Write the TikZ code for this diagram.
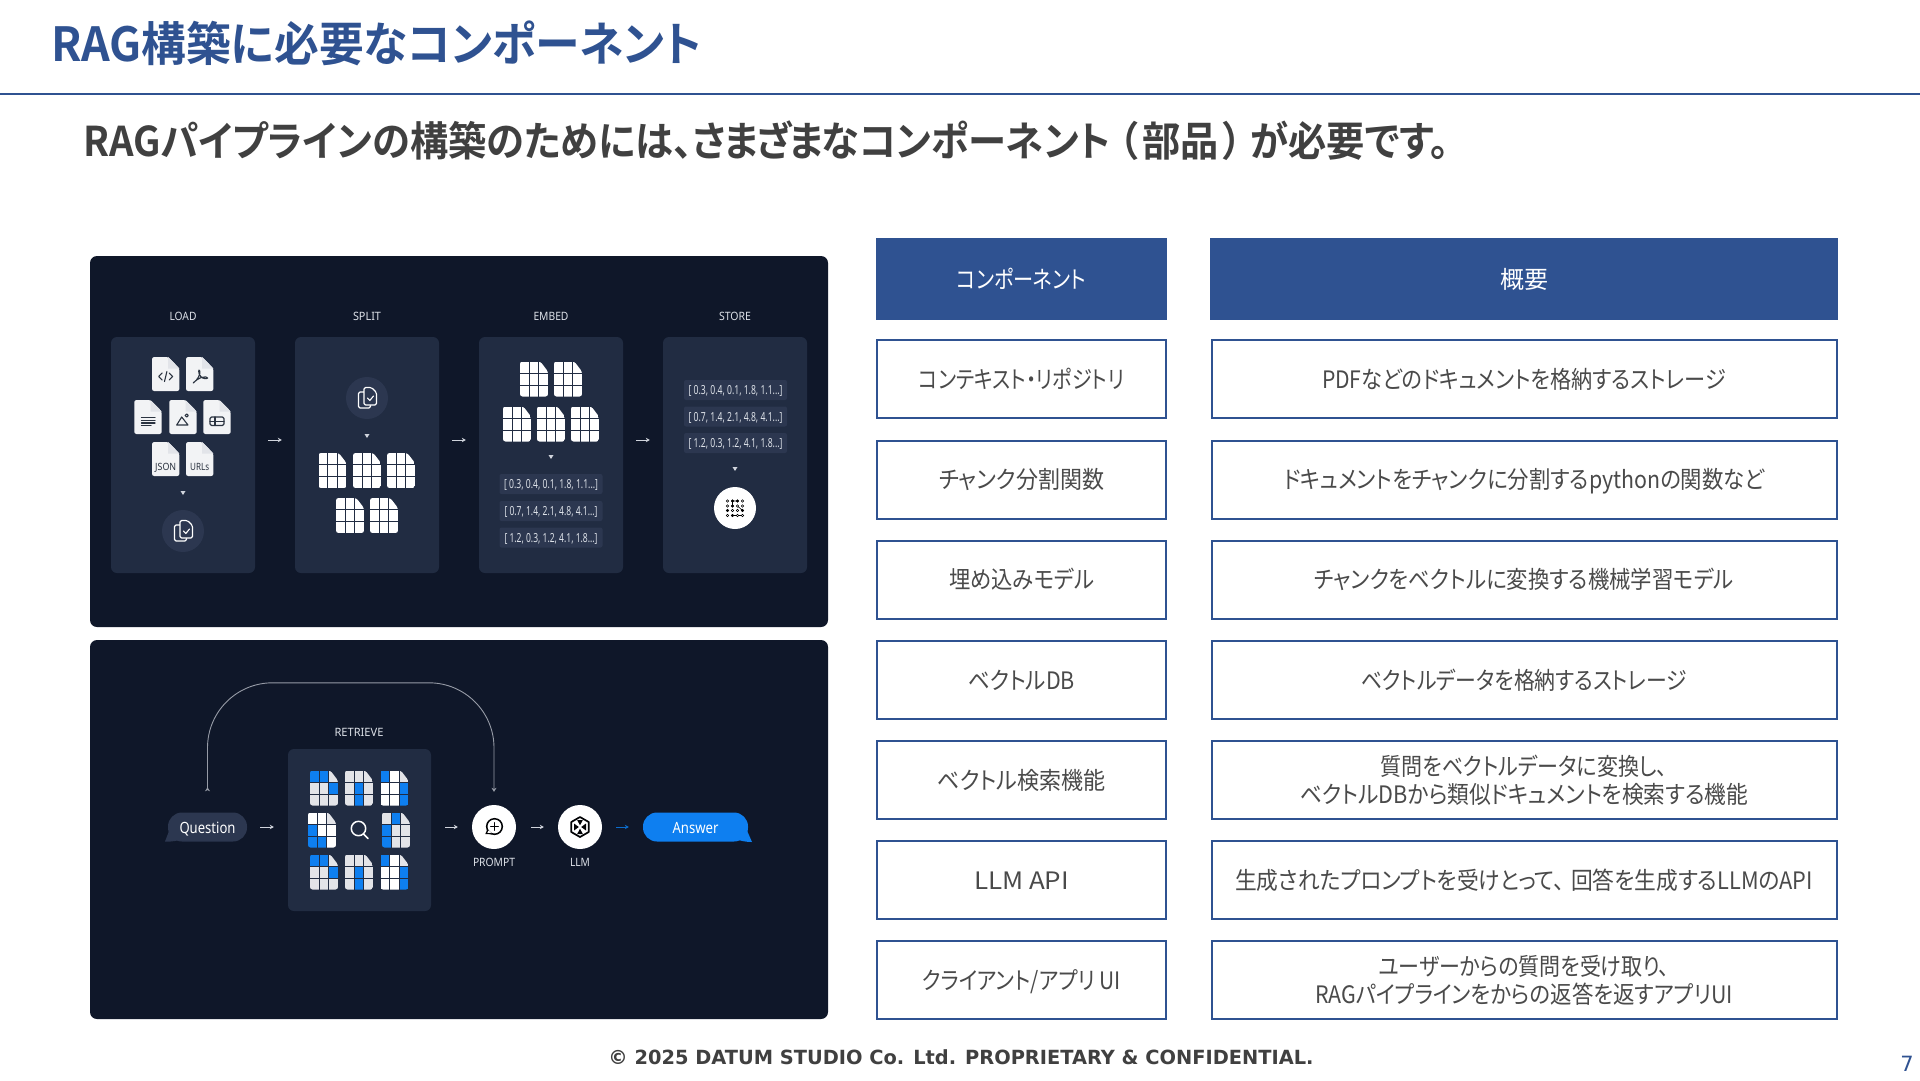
\documentclass[tikz,border=0pt]{standalone}
\usepackage{fontspec}
\usepackage{graphicx}
\usetikzlibrary{arrows.meta}
\setmainfont{Noto Sans CJK JP}[RawFeature={+palt},BoldFont={Noto Sans CJK JP Bold}]
\newfontfamily\uifont{Noto Sans}
\newfontfamily\footfont{DejaVu Sans}
\definecolor{rulec}{HTML}{2F5291}
\definecolor{txt}{HTML}{4A4A4A}
\definecolor{subt}{HTML}{404040}
\definecolor{panel}{HTML}{0F1729}
\definecolor{card}{HTML}{212C42}
\definecolor{chip}{HTML}{2C3750}
\definecolor{lbl}{HTML}{DDE1E8}
\definecolor{flow}{HTML}{D0D4DC}
\definecolor{cB}{HTML}{0E7FF0}
\definecolor{cG}{HTML}{E3E4E8}
\definecolor{cW}{HTML}{FFFFFF}
\definecolor{ink}{HTML}{2B3340}
\definecolor{page}{HTML}{F2F3F5}
\definecolor{fold}{HTML}{E2E4E9}
\newcommand\fitw[2]{\resizebox{#1pt}{\height}{\smash{#2}\rule[-0.03em]{0pt}{0.85em}}}
\newcommand\griddoc[3]{%
  \begin{scope}[shift={(#1,#2)}]
    \clip[rounded corners=2.5] (-14,-17.5)--(6.3,-17.5)--(14,-7.5)--(14,17.5)--(-14,17.5)--cycle;
    \foreach \cellcol [count=\cellno from 0] in {#3}{%
      \pgfmathtruncatemacro\ci{mod(\cellno,3)}%
      \pgfmathtruncatemacro\cj{div(\cellno,3)}%
      \fill[\cellcol] ({-14+\ci*9.6},{-17.5+\cj*12}) rectangle ++(8.6,11);
    }
  \end{scope}}
\newcommand\downtri[2]{\fill[flow] (#1-2.5,#2-2) -- (#1+2.5,#2-2) -- (#1,#2+2) -- cycle;}
\tikzset{
  tablebox/.style={draw=rulec,line width=2pt,fill=white,inner sep=0pt,align=center,text=txt,
    font=\fontsize{24}{28}\selectfont},
  lefttab/.style={tablebox,minimum width=289pt,minimum height=78pt},
  righttab/.style={tablebox,minimum width=625pt,minimum height=78pt},
  headtab/.style={fill=rulec,draw=none,inner sep=0pt,text=white,font=\fontsize{24}{28}\selectfont,minimum height=82pt},
  darkpanel/.style={fill=panel,rounded corners=7pt},
  cardbox/.style={fill=card,rounded corners=6pt,minimum width=144pt,minimum height=236pt,inner sep=0pt},
  steplabel/.style={text=lbl,inner sep=0pt,font=\uifont\fontsize{11.5}{13}\selectfont},
  vecbox/.style={fill=chip,rounded corners=2pt,minimum width=103pt,minimum height=20pt,inner sep=0pt,text=lbl,
    font=\uifont\fontsize{12.5}{14}\selectfont},
  disc/.style={circle,fill=#1,minimum size=42pt,inner sep=0pt},
  bubble/.style={fill=#1,rounded corners=14pt,minimum height=29pt,inner sep=0pt,text=white,
    font=\uifont\fontsize{15.5}{18}\selectfont},
  flowarrow/.style={draw=flow,line width=1pt,-{Stealth[length=4pt,width=4.5pt]}},
  iconline/.style={draw=ink,line width=1.1pt,line cap=round,line join=round},
  whiteline/.style={draw=white,line width=1.1pt,line cap=round,line join=round},
  blackline/.style={draw=black!90!panel,line width=1.5pt,line cap=round,line join=round},
  docpage/.pic={
    \fill[page,rounded corners=2.2] (-13.7,-17)--(2.5,-17)--(13.7,-5.5)--(13.7,17)--(-13.7,17)--cycle;
    \fill[fold] (2.5,-17)--(13.7,-5.5)--(2.5,-5.5)--cycle;
  },
  copyicon/.pic={
    \draw[whiteline,rounded corners=1.5] (-8.5,-6) rectangle (3.5,10);
    \draw[whiteline,fill=chip,rounded corners=1.5] (-3,-10.5)--(4.5,-10.5)--(9.5,-5.5)--(9.5,7)--(-3,7)--cycle;
    \draw[whiteline] (0.5,0)--(2.8,2.5)--(6.5,-2);
  },
}
\begin{document}
\begin{tikzpicture}[x=1pt,y=-1pt]
\useasboundingbox (0,0) rectangle (1920,1080);
\fill[white] (0,0) rectangle (1920,1080);

% title area
\node[anchor=west,inner sep=0pt,text=rulec,font=\fontsize{47}{50}\selectfont\bfseries] (title) at (51,43)
  {\fitw{651}{RAG構築に必要なコンポーネント}};
\draw[rulec,line width=2pt] (0,94) -- (1920,94);
\node[anchor=west,inner sep=0pt,text=subt,font=\fontsize{41}{44}\selectfont\bfseries] (subtitle) at (83,140)
  {\fitw{1366}{RAGパイプラインの構築のためには、さ\kern-.05em ま\kern-.05em ざ\kern-.05em ま\kern-.05em なコンポーネント\hspace{.2em}（\hspace{.12em}部品\hspace{.12em}）\hspace{.2em}が必要です。}};

% table
\node[headtab,minimum width=291pt] (hl) at (1021.5,279) {\fitw{129}{コンポーネント}};
\node[headtab,minimum width=628pt] (hr) at (1524,279) {\fitw{48}{概要}};

\node[lefttab] (l1) at (1021.5,379) {\fitw{205}{コンテキスト・リポジトリ}};
\node[righttab] (r1) at (1524,379) {\fitw{404}{PDFなどのドキュメントを格納するストレージ}};
\node[lefttab] (l2) at (1021.5,479.5) {\fitw{165}{チャンク分割関数}};
\node[righttab] (r2) at (1524,479.5) {\fitw{481}{ドキュメントをチャンクに分割するpythonの関数など}};
\node[lefttab] (l3) at (1021.5,579.5) {\fitw{145}{埋め込みモデル}};
\node[righttab] (r3) at (1524,579.5) {\fitw{420}{チャンクをベクトルに変換する機械学習モデル}};
\node[lefttab] (l4) at (1021.5,680) {\fitw{107}{ベクトルDB}};
\node[righttab] (r4) at (1524,680) {\fitw{326}{ベクトルデータを格納するストレージ}};
\node[lefttab] (l5) at (1021.5,780) {\fitw{168}{ベクトル検索機能}};
\node[righttab] (r5) at (1524,780) {\fitw{287}{質問をベクトルデータに変換し、}\\\fitw{448}{ベクトルDBから類似ドキュメントを検索する機能}};
\node[lefttab] (l6) at (1021.5,880) {\fitw{95}{LLM API}};
\node[righttab] (r6) at (1524,880) {\fitw{578}{生成されたプロンプトを受けとって、\hspace{.3em}回答を生成するLLMのAPI}};
\node[lefttab] (l7) at (1021.5,980) {\fitw{199}{クライアント/アプリ UI}};
\node[righttab] (r7) at (1524,980) {\fitw{291}{ユーザーからの質問を受け取り、}\\\fitw{418}{RAGパイプラインをからの返答を返すアプリUI}};

% footer
\node[inner sep=0pt,text=subt,font=\footfont\bfseries\fontsize{19.5}{22}\selectfont] (foot) at (961,1057)
  {\fitw{705}{© 2025 DATUM STUDIO Co. Ltd. PROPRIETARY \& CONFIDENTIAL.}};
\node[inner sep=0pt,text=rulec,font=\footfont\fontsize{21}{24}\selectfont] (pageno) at (1907,1064) {7};

% top panel
\fill[darkpanel] (90,256) rectangle (828,627);
\node[cardbox] (load) at (183,455) {};
\node[cardbox] (split) at (367,455) {};
\node[cardbox] (embed) at (551,455) {};
\node[cardbox] (store) at (735,455) {};
\node[steplabel] (tload) at (183,316) {\fitw{27}{LOAD}};
\node[steplabel] (tsplit) at (367,316) {\fitw{28}{SPLIT}};
\node[steplabel] (tembed) at (551,316) {\fitw{35}{EMBED}};
\node[steplabel] (tstore) at (735,316) {\fitw{32}{STORE}};

\draw[flowarrow,shorten <=13pt,shorten >=13pt] ([yshift=15pt]load.east) -- ([yshift=15pt]split.west);
\draw[flowarrow,shorten <=13pt,shorten >=13pt] ([yshift=15pt]split.east) -- ([yshift=15pt]embed.west);
\draw[flowarrow,shorten <=13pt,shorten >=13pt] ([yshift=15pt]embed.east) -- ([yshift=15pt]store.west);

% load documents
\foreach \dx/\dy in {165.7/374,199.7/374,148/417,183/417,217/417,165.7/459,199.7/459}
  \pic at (\dx,\dy) {docpage};
\begin{scope}[shift={(165.7,374)}]
  \draw[iconline] (-3.5,-1)--(-7,2.5)--(-3.5,6) (3.5,-1)--(7,2.5)--(3.5,6) (1.2,-2.5)--(-1.2,7.5);
\end{scope}
\begin{scope}[shift={(199.7,374)}]
  \draw[iconline] (-6.5,9) .. controls (-2,6) and (1,0) .. (0,-3) .. controls (-1,-6) and (-2,-1) .. (1,2.5) .. controls (3,5) and (7,5) .. (8,4) .. controls (7,1.5) and (-1,3) .. (-6.5,9);
\end{scope}
\begin{scope}[shift={(148,417)}]
  \draw[iconline,line width=1.2pt] (-6.5,0.5)--(7,0.5) (-6.5,3.2)--(7,3.2) (-6.5,5.9)--(7,5.9) (-6.5,8.4)--(3,8.4);
\end{scope}
\begin{scope}[shift={(183,417)}]
  \draw[iconline] (-6.3,8)--(-1.3,0)--(5,8)--cycle (3.7,-1.5) circle (1.6);
\end{scope}
\begin{scope}[shift={(217,417)}]
  \draw[iconline,rounded corners=1.5] (-7,0) rectangle (7,8.5);
  \draw[iconline] (-7,4.2)--(7,4.2) (-2,0)--(-2,8.5);
\end{scope}
\node[inner sep=0pt,text=ink,font=\uifont\bfseries\fontsize{10}{12}\selectfont] (djson) at (165.7,467) {\fitw{21}{JSON}};
\node[inner sep=0pt,text=ink,font=\uifont\bfseries\fontsize{10}{12}\selectfont] (durls) at (199.7,467) {\fitw{19}{URLs}};
\downtri{183}{493}
\node[disc=chip] (cload) at (183,531) {};
\pic at (cload) {copyicon};

% split
\node[disc=chip] (csplit) at (367,398) {};
\pic at (csplit) {copyicon};
\downtri{367}{436}
\griddoc{332.5}{470.5}{cW,cW,cW,cW,cW,cW,cW,cW,cW}
\griddoc{367}{470.5}{cW,cW,cW,cW,cW,cW,cW,cW,cW}
\griddoc{401}{470.5}{cW,cW,cW,cW,cW,cW,cW,cW,cW}
\griddoc{350}{515.5}{cW,cW,cW,cW,cW,cW,cW,cW,cW}
\griddoc{384}{515.5}{cW,cW,cW,cW,cW,cW,cW,cW,cW}

% embed
\griddoc{534}{379}{cW,cW,cW,cW,cW,cW,cW,cW,cW}
\griddoc{568}{379}{cW,cW,cW,cW,cW,cW,cW,cW,cW}
\griddoc{517}{424}{cW,cW,cW,cW,cW,cW,cW,cW,cW}
\griddoc{551}{424}{cW,cW,cW,cW,cW,cW,cW,cW,cW}
\griddoc{585}{424}{cW,cW,cW,cW,cW,cW,cW,cW,cW}
\downtri{551}{457}
\node[vecbox] (ev1) at (551,484) {\fitw{94}{[ 0.3, 0.4, 0.1, 1.8, 1.1...]}};
\node[vecbox] (ev2) at (551,511) {\fitw{93}{[ 0.7, 1.4, 2.1, 4.8, 4.1...]}};
\node[vecbox] (ev3) at (551,537.5) {\fitw{93}{[ 1.2, 0.3, 1.2, 4.1, 1.8...]}};

% store
\node[vecbox] (sv1) at (735.5,390) {\fitw{94}{[ 0.3, 0.4, 0.1, 1.8, 1.1...]}};
\node[vecbox] (sv2) at (735.5,416.5) {\fitw{94}{[ 0.7, 1.4, 2.1, 4.8, 4.1...]}};
\node[vecbox] (sv3) at (735.5,443) {\fitw{94}{[ 1.2, 0.3, 1.2, 4.1, 1.8...]}};
\downtri{735}{469}
\node[disc=white] (cstore) at (735,508) {};
\begin{scope}[shift={(cstore)}]
  \draw[black,line width=.6pt] (-2.5,-7)--(2.5,-7) (-2.5,7.5)--(7.5,7.5) (-2.5,-7)--(-2.5,-2) (2.5,-2)--(7.5,2.5);
  \foreach \gx/\gy/\gf in {-7.5/-7/white,-2.5/-7/black,2.5/-7/black,7.5/-7/white,
     -7.5/-2/white,-2.5/-2/black,2.5/-2/white,7.5/-2/white,
     -7.5/2.5/black,-2.5/2.5/white,2.5/2.5/white,7.5/2.5/black,
     -7.5/7.5/white,-2.5/7.5/black,2.5/7.5/white,7.5/7.5/white}
    \draw[black,line width=.6pt,fill=\gf] (\gx,\gy) circle (1.3);
\end{scope}

% bottom panel
\fill[darkpanel] (90,640) rectangle (828,1019);
\node[cardbox,minimum width=143pt,minimum height=162pt] (retrieve) at (359.5,830) {};
\node[steplabel] (tretr) at (359,732) {\fitw{49}{RETRIEVE}};

\griddoc{324}{788}{cB,cB,cG,cG,cG,cB,cG,cG,cG}
\griddoc{359}{788}{cG,cG,cG,cG,cB,cG,cG,cB,cG}
\griddoc{394.5}{788}{cB,cW,cG,cW,cW,cB,cW,cW,cB}
\griddoc{322}{830}{cW,cW,cG,cB,cW,cW,cB,cB,cW}
\griddoc{396}{830}{cG,cB,cG,cB,cG,cG,cB,cG,cG}
\griddoc{324}{872}{cB,cB,cG,cG,cG,cB,cG,cG,cG}
\griddoc{359}{872}{cG,cG,cG,cG,cB,cG,cG,cB,cG}
\griddoc{394.5}{872}{cB,cW,cG,cW,cW,cB,cW,cW,cB}
\draw[whiteline,line width=1.5pt] (358.5,828.5) circle (7.2) (363.5,834)--(368,838.5);

\node[bubble=chip,minimum width=79pt] (question) at (207.5,827) {\fitw{56}{Question}};
\fill[chip] (171,826) -- (165,841.5) .. controls (171,842) and (178,841) .. (184,838) -- cycle;
\node[disc=white,minimum size=44pt] (prompt) at (494,827) {};
\node[disc=white,minimum size=44pt] (llm) at (580,827) {};
\node[steplabel] (tprompt) at (494,862) {\fitw{42}{PROMPT}};
\node[steplabel] (tllm) at (580,862) {\fitw{20}{LLM}};
\node[bubble=cB,minimum width=105pt] (answer) at (695.5,827) {\fitw{46}{Answer}};
\fill[cB] (745,826) -- (752,842) .. controls (746,842) and (740,841) .. (733,838) -- cycle;

\draw[flowarrow,shorten <=13pt,shorten >=14pt] (question.east) -- ([yshift=3pt]retrieve.west);
\draw[flowarrow,shorten <=14pt,shorten >=14pt] ([yshift=3pt]retrieve.east) -- (prompt.west);
\draw[flowarrow,shorten <=15pt,shorten >=14pt] (prompt.east) -- (llm.west);
\draw[flowarrow,draw=cB!85!black,shorten <=14pt,shorten >=14pt] (llm.east) -- (answer.west);
\draw[draw=flow!70!panel,line width=.9pt,rounded corners=65pt,shorten <=21pt,shorten >=13pt,
  {Stealth[reversed,length=4pt,width=5pt]}-{Stealth[length=4pt,width=5pt]}]
  (question.north) -- ++(0,-129.5) -| (prompt.north);

% prompt icon
\begin{scope}[shift={(prompt)}]
  \draw[blackline] (0.5,-0.5) circle (7.8);
  \fill[black!90!panel] (-6.5,2) -- (-8.7,7) -- (-1.5,7.4) -- cycle;
  \fill[white] (-5.4,3.4) -- (-6.6,5.9) -- (-2.5,6) -- cycle;
  \draw[blackline] (-3.2,-0.5)--(4.2,-0.5) (0.5,-4.2)--(0.5,3.2);
\end{scope}
% llm icon
\begin{scope}[shift={(llm)}]
  \draw[blackline,line width=1.7pt] (0,-10)--(8.7,-5)--(8.7,5)--(0,10)--(-8.7,5)--(-8.7,-5)--cycle;
  \fill[black!90!panel] (-6,-3.5)--(-1.2,0)--(-6,3.5)--cycle (6,-3.5)--(1.2,0)--(6,3.5)--cycle;
  \fill[black!90!panel] (-2.8,-7)--(2.8,-7)--(0,-1.6)--cycle (-2.8,7)--(2.8,7)--(0,1.6)--cycle;
\end{scope}
\end{tikzpicture}
\end{document}
